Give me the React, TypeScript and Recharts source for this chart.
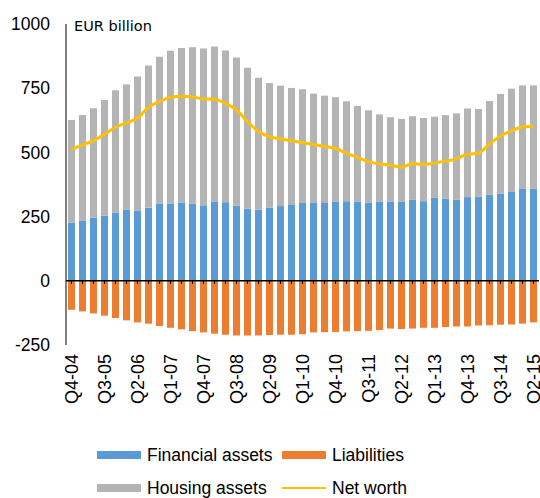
import {
  ComposedChart,
  Bar,
  Line,
  XAxis,
  YAxis,
  ReferenceLine,
} from 'recharts';

const quarters = [
  'Q4-04', 'Q1-05', 'Q2-05', 'Q3-05', 'Q4-05', 'Q1-06', 'Q2-06', 'Q3-06', 'Q4-06',
  'Q1-07', 'Q2-07', 'Q3-07', 'Q4-07', 'Q1-08', 'Q2-08', 'Q3-08', 'Q4-08',
  'Q1-09', 'Q2-09', 'Q3-09', 'Q4-09', 'Q1-10', 'Q2-10', 'Q3-10', 'Q4-10',
  'Q1-11', 'Q2-11', 'Q3-11', 'Q4-11', 'Q1-12', 'Q2-12', 'Q3-12', 'Q4-12',
  'Q1-13', 'Q2-13', 'Q3-13', 'Q4-13', 'Q1-14', 'Q2-14', 'Q3-14', 'Q4-14',
  'Q1-15', 'Q2-15',
];

const financialAssets = [
  227, 235, 246, 254, 266, 276, 274, 285, 301, 301, 305, 301, 294, 309, 306, 293,
  281, 277, 284, 291, 298, 303, 303, 303, 309, 310, 309, 305, 309, 309, 309, 315,
  310, 323, 319, 315, 326, 327, 335, 340, 346, 360, 358,
];

const housingAssets = [
  399, 411, 426, 450, 476, 489, 522, 553, 571, 595, 602, 608, 611, 603, 591, 577,
  549, 514, 486, 469, 453, 443, 426, 418, 406, 389, 372, 359, 339, 328, 321, 326,
  324, 316, 326, 337, 345, 342, 365, 388, 402, 401, 403,
];

const liabilities = [
  -113, -119, -127, -136, -145, -154, -162, -167, -176, -183, -189, -196, -201, -206,
  -210, -213, -213, -213, -211, -210, -210, -208, -201, -200, -199, -197, -196, -195,
  -192, -186, -188, -186, -183, -183, -180, -178, -178, -174, -173, -171, -170, -167,
  -162,
];

const netWorth = [
  512, 529, 546, 571, 598, 615, 633, 676, 698, 715, 719, 716, 708, 707, 691, 665,
  620, 581, 561, 553, 545, 538, 531, 523, 515, 497, 480, 464, 455, 451, 442, 457,
  453, 459, 466, 475, 493, 497, 533, 564, 584, 599, 602,
];

const yTicks = [-250, 0, 250, 500, 750, 1000];

const BLUE = '#5B9BD5';
const ORANGE = '#ED7D31';
const GREY = '#B4B4B4';
const GOLD = '#FFC000';
const FONT = '"Liberation Sans", Arial, sans-serif';

const data = quarters.map((q, i) => ({
  q,
  financial: financialAssets[i],
  housing: housingAssets[i],
  liabilities: liabilities[i],
  net: netWorth[i],
}));

function QuarterTick({ x, y, payload }: any) {
  return (
    <text
      x={x}
      y={y}
      transform={`rotate(-90 ${x} ${y})`}
      textAnchor="end"
      dy="0.35em"
      fontSize={18}
      fontFamily={FONT}
      fill="#000"
    >
      {payload.value}
    </text>
  );
}

function LegendItem({ color, label, line }: { color: string; label: string; line?: boolean }) {
  return (
    <div style={{ display: 'flex', alignItems: 'center', width: 185 }}>
      <div
        style={{
          width: 44,
          height: line ? 2.5 : 8,
          background: color,
          marginRight: 6,
        }}
      />
      <span>{label}</span>
    </div>
  );
}

export default function App() {
  return (
    <div style={{ position: 'absolute', left: 0, top: 0, width: 540, height: 498, background: '#fff' }}>
      <ComposedChart
        width={540}
        height={498}
        data={data}
        stackOffset="sign"
        barSize={7}
        margin={{ top: 24, right: 1, bottom: 83, left: 0 }}
      >
        <XAxis
          dataKey="q"
          interval={2}
          axisLine={false}
          tickLine={false}
          tickSize={0}
          tickMargin={9}
          height={70}
          tick={<QuarterTick />}
        />
        <YAxis
          domain={[-250, 1000]}
          ticks={yTicks}
          width={66}
          axisLine={{ stroke: '#000', strokeWidth: 1 }}
          tickLine={false}
          tickSize={6}
          tickMargin={10}
          tick={{ fontSize: 17.5, fill: '#000', fontFamily: FONT }}
        />
        <Bar dataKey="financial" stackId="a" fill={BLUE} isAnimationActive={false} />
        <Bar dataKey="housing" stackId="a" fill={GREY} isAnimationActive={false} />
        <Bar dataKey="liabilities" stackId="a" fill={ORANGE} isAnimationActive={false} />
        <ReferenceLine y={0} stroke="#000" strokeWidth={1.5} />
        {quarters.map((q) => (
          <ReferenceLine
            key={q}
            segment={[{ x: q, y: 0 }, { x: q, y: -12 }]}
            stroke="#000"
            strokeWidth={1}
          />
        ))}
        <Line
          dataKey="net"
          type="monotone"
          stroke={GOLD}
          strokeWidth={3}
          dot={false}
          isAnimationActive={false}
        />
      </ComposedChart>
      <div
        style={{
          position: 'absolute',
          left: 74,
          top: 16,
          fontFamily: '"DejaVu Sans", sans-serif',
          fontSize: 14.5,
          color: '#000',
          lineHeight: '20px',
        }}
      >
        EUR billion
      </div>
      <div
        style={{
          position: 'absolute',
          left: 97,
          top: 444,
          fontFamily: FONT,
          fontSize: 17.5,
          color: '#000',
          lineHeight: '22px',
        }}
      >
        <div style={{ display: 'flex', marginBottom: 11 }}>
          <LegendItem color={BLUE} label="Financial assets" />
          <LegendItem color={ORANGE} label="Liabilities" />
        </div>
        <div style={{ display: 'flex' }}>
          <LegendItem color={GREY} label="Housing assets" />
          <LegendItem color={GOLD} label="Net worth" line />
        </div>
      </div>
    </div>
  );
}
